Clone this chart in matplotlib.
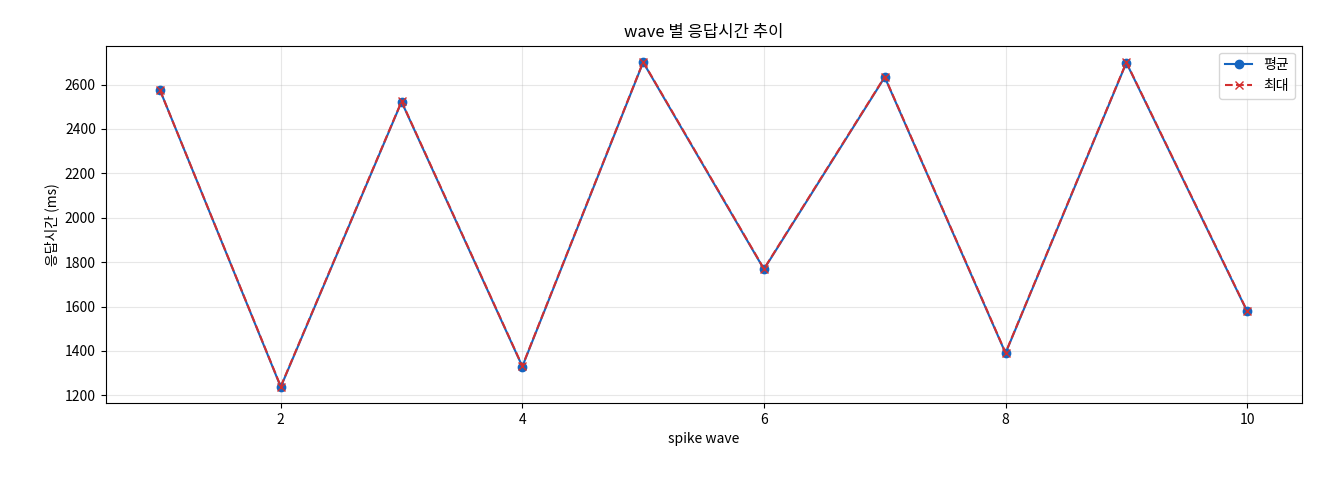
import matplotlib
matplotlib.use("Agg")
import matplotlib.pyplot as plt

plt.rcParams["font.family"] = ["Noto Sans CJK KR", "DejaVu Sans"]

waves = [1, 2, 3, 4, 5, 6, 7, 8, 9, 10]
avg_ms = [2575, 1238, 2522, 1330, 2700, 1768, 2633, 1390, 2698, 1578]
max_ms = [2575, 1240, 2524, 1332, 2702, 1770, 2635, 1392, 2700, 1580]

fig, ax = plt.subplots(figsize=(13.2, 4.8), dpi=100)
ax.plot(waves, avg_ms, marker="o", color="#1565c0", label="평균")
ax.plot(waves, max_ms, marker="x", ls="--", color="#d32f2f", label="최대")
ax.set_title("wave 별 응답시간 추이")
ax.set_xlabel("spike wave")
ax.set_ylabel("응답시간 (ms)")
ax.grid(alpha=0.3)
ax.legend(loc="upper right")
fig.subplots_adjust(left=0.08, right=0.986, top=0.905, bottom=0.16)
fig.savefig("out.png", dpi=100)
